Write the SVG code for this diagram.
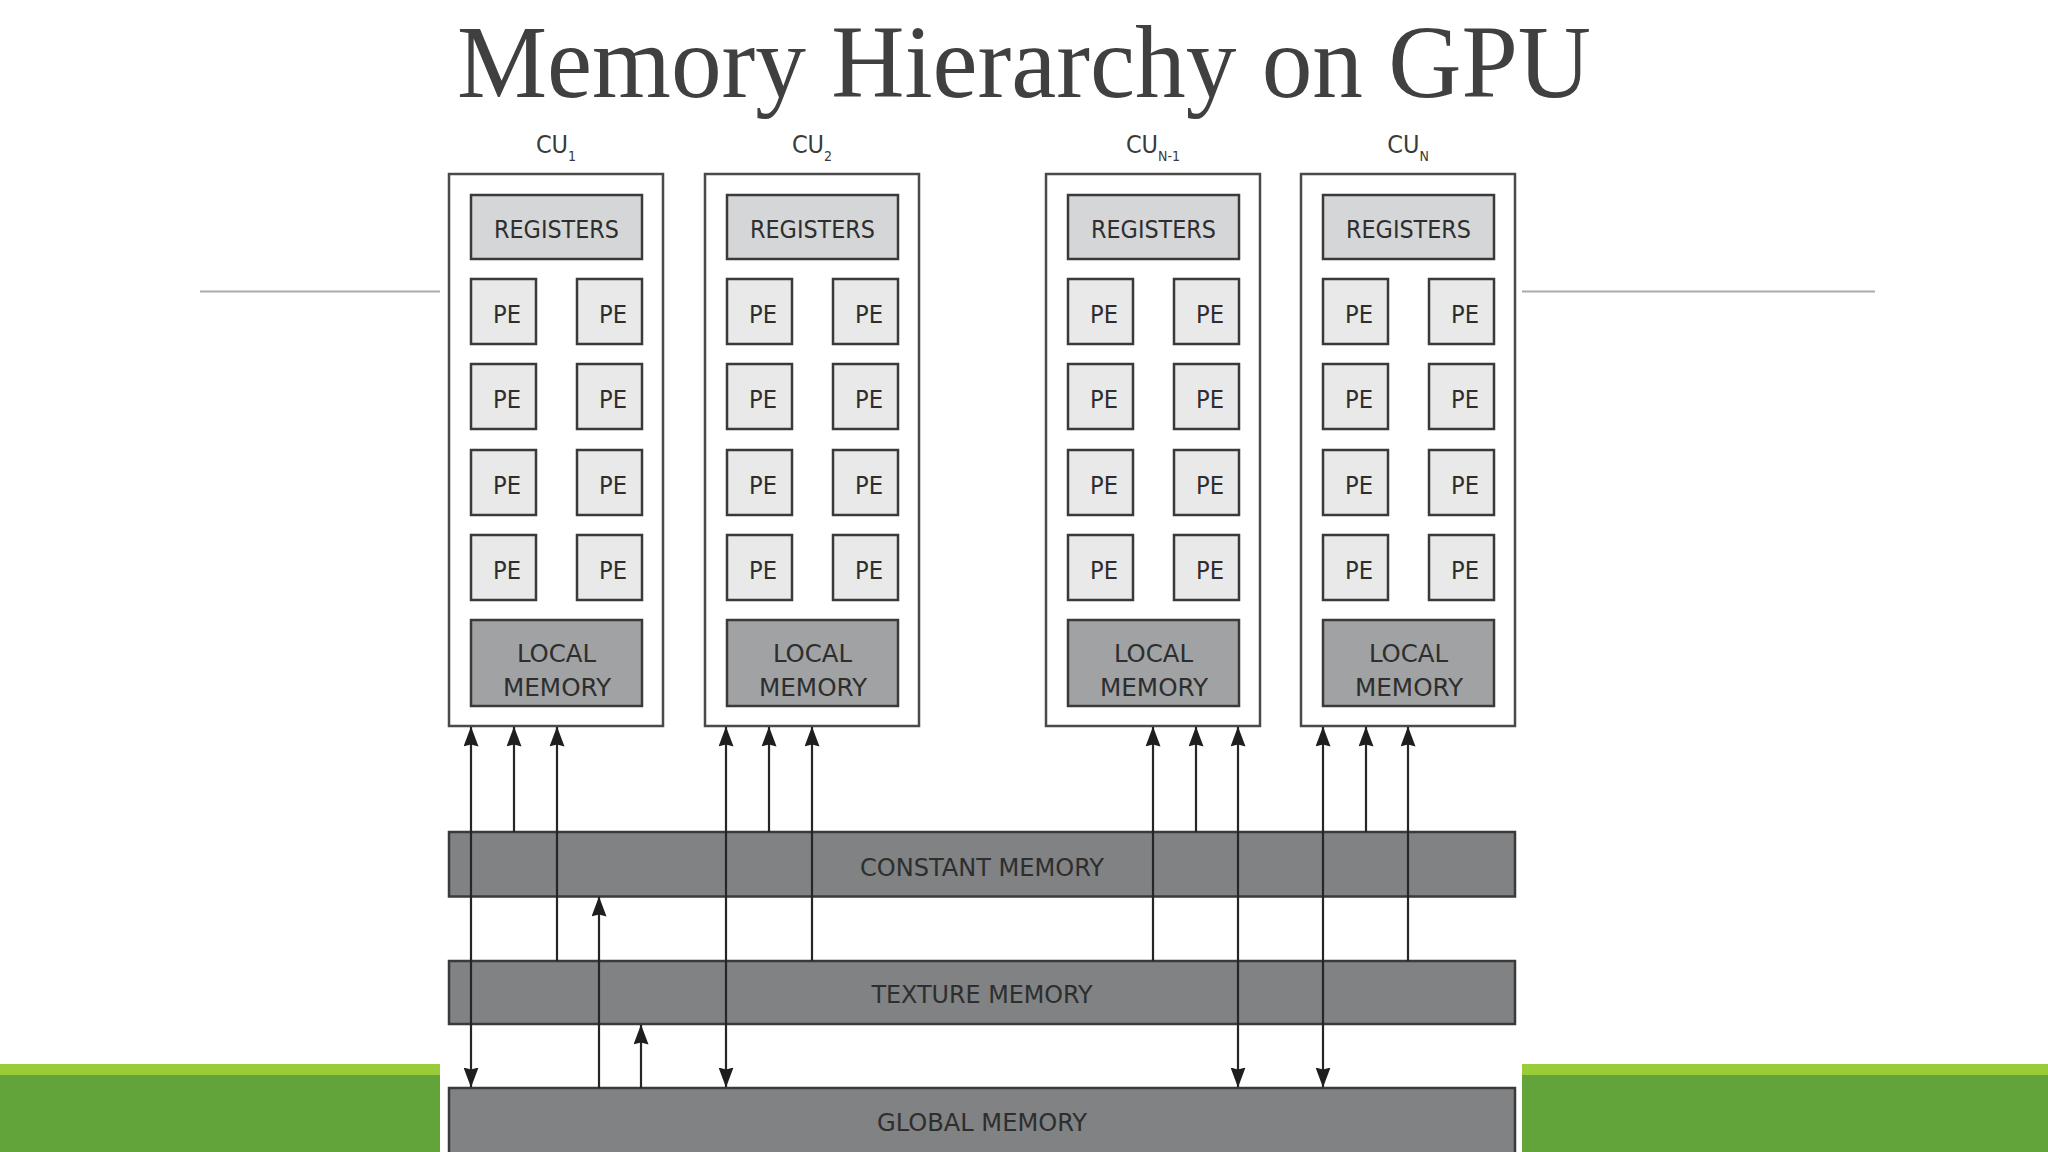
<svg xmlns="http://www.w3.org/2000/svg" width="2048" height="1152" viewBox="0 0 2048 1152">
  <style>
    .title { font-family: "Liberation Serif", "Times New Roman", serif; font-size: 104px; fill: #404040; }
    .lbl { font-family: "DejaVu Sans Condensed", "Liberation Sans", Arial, sans-serif; font-size: 25px; fill: #2e2e2e; text-anchor: middle; }
    .cul { font-family: "DejaVu Sans Condensed", "Liberation Sans", Arial, sans-serif; font-size: 25px; fill: #3a3a3a; text-anchor: middle; }
    .sub { font-size: 14px; }
    .cu { fill: #ffffff; stroke: #4a4a4a; stroke-width: 2.5; }
    .reg { fill: #d5d6d7; stroke: #3a3a3a; stroke-width: 2.5; }
    .pe { fill: #e9e9ea; stroke: #3a3a3a; stroke-width: 2.5; }
    .loc { fill: #a0a2a4; stroke: #3a3a3a; stroke-width: 2.5; }
    .bar { fill: #808284; stroke: #3a3a3a; stroke-width: 2.5; }
    .rule { stroke: #aaaaaa; stroke-width: 2; }
    .conn { stroke: #262626; stroke-width: 2.2; fill: none; }
    .one { marker-end: url(#ah); }
    .two { marker-start: url(#ah); marker-end: url(#ah); }
  </style>
  <defs>
    <marker id="ah" viewBox="0 0 20 15" refX="19.5" refY="7.5" markerWidth="20" markerHeight="15" markerUnits="userSpaceOnUse" orient="auto-start-reverse">
      <path d="M0,0 L20,7.5 L0,15 L2,7.5 Z" fill="#1e1e1e"/>
    </marker>
    <g id="cuBody">
      <rect class="cu" x="449" y="174" width="214" height="552"/>
      <rect class="reg" x="471" y="195" width="171" height="64"/>
      <text class="lbl" x="556.5" y="238" textLength="125" lengthAdjust="spacingAndGlyphs">REGISTERS</text>
      <rect class="pe" x="471" y="279" width="65" height="65"/>
      <rect class="pe" x="577" y="279" width="65" height="65"/>
      <rect class="pe" x="471" y="364" width="65" height="65"/>
      <rect class="pe" x="577" y="364" width="65" height="65"/>
      <rect class="pe" x="471" y="450" width="65" height="65"/>
      <rect class="pe" x="577" y="450" width="65" height="65"/>
      <rect class="pe" x="471" y="535" width="65" height="65"/>
      <rect class="pe" x="577" y="535" width="65" height="65"/>
      <text class="lbl" x="507" y="323" textLength="28" lengthAdjust="spacingAndGlyphs">PE</text>
      <text class="lbl" x="613" y="323" textLength="28" lengthAdjust="spacingAndGlyphs">PE</text>
      <text class="lbl" x="507" y="408" textLength="28" lengthAdjust="spacingAndGlyphs">PE</text>
      <text class="lbl" x="613" y="408" textLength="28" lengthAdjust="spacingAndGlyphs">PE</text>
      <text class="lbl" x="507" y="494" textLength="28" lengthAdjust="spacingAndGlyphs">PE</text>
      <text class="lbl" x="613" y="494" textLength="28" lengthAdjust="spacingAndGlyphs">PE</text>
      <text class="lbl" x="507" y="579" textLength="28" lengthAdjust="spacingAndGlyphs">PE</text>
      <text class="lbl" x="613" y="579" textLength="28" lengthAdjust="spacingAndGlyphs">PE</text>
      <rect class="loc" x="471" y="620" width="171" height="86"/>
      <text class="lbl" x="556.5" y="662" textLength="79" lengthAdjust="spacingAndGlyphs">LOCAL</text>
      <text class="lbl" x="557" y="696" textLength="108" lengthAdjust="spacingAndGlyphs">MEMORY</text>
    </g>
  </defs>

  <rect x="0" y="0" width="2048" height="1152" fill="#ffffff"/>

  <g id="title">
    <text class="title" x="1024" y="97" text-anchor="middle" textLength="1134" lengthAdjust="spacingAndGlyphs">Memory Hierarchy on GPU</text>
  </g>

  <g id="decor">
    <line class="rule" x1="200" y1="291.5" x2="440" y2="291.5"/>
    <line class="rule" x1="1522" y1="291.5" x2="1875" y2="291.5"/>
    <rect x="0" y="1064" width="440" height="88" fill="#62a43a"/>
    <rect x="0" y="1064" width="440" height="11" fill="#9acb38"/>
    <rect x="1522" y="1064" width="526" height="88" fill="#62a43a"/>
    <rect x="1522" y="1064" width="526" height="11" fill="#9acb38"/>
  </g>

  <g id="cu1">
    <use href="#cuBody"/>
    <text class="cul" x="556" y="153">CU<tspan class="sub" dy="8">1</tspan></text>
  </g>
  <g id="cu2">
    <use href="#cuBody" transform="translate(256,0)"/>
    <text class="cul" x="812" y="153">CU<tspan class="sub" dy="8">2</tspan></text>
  </g>
  <g id="cuN-1">
    <use href="#cuBody" transform="translate(597,0)"/>
    <text class="cul" x="1153" y="153">CU<tspan class="sub" dy="8">N-1</tspan></text>
  </g>
  <g id="cuN">
    <use href="#cuBody" transform="translate(852,0)"/>
    <text class="cul" x="1408" y="153">CU<tspan class="sub" dy="8">N</tspan></text>
  </g>

  <g id="constant-memory">
    <rect class="bar" x="449" y="832" width="1066" height="64.5"/>
    <text class="lbl" x="982" y="876" textLength="244" lengthAdjust="spacingAndGlyphs">CONSTANT MEMORY</text>
  </g>
  <g id="texture-memory">
    <rect class="bar" x="449" y="961" width="1066" height="63"/>
    <text class="lbl" x="982" y="1003" textLength="221" lengthAdjust="spacingAndGlyphs">TEXTURE MEMORY</text>
  </g>
  <g id="global-memory">
    <rect class="bar" x="449" y="1088" width="1066" height="80"/>
    <text class="lbl" x="982" y="1131" textLength="210" lengthAdjust="spacingAndGlyphs">GLOBAL MEMORY</text>
  </g>

  <g id="connectors">
    <line class="conn one" x1="514" y1="832" x2="514" y2="727"/>
    <line class="conn one" x1="769" y1="832" x2="769" y2="727"/>
    <line class="conn one" x1="1196" y1="832" x2="1196" y2="727"/>
    <line class="conn one" x1="1366" y1="832" x2="1366" y2="727"/>
    <line class="conn one" x1="557" y1="961" x2="557" y2="727"/>
    <line class="conn one" x1="812" y1="961" x2="812" y2="727"/>
    <line class="conn one" x1="1153" y1="961" x2="1153" y2="727"/>
    <line class="conn one" x1="1408" y1="961" x2="1408" y2="727"/>
    <line class="conn two" x1="471" y1="1087" x2="471" y2="727"/>
    <line class="conn two" x1="726" y1="1087" x2="726" y2="727"/>
    <line class="conn two" x1="1238" y1="1087" x2="1238" y2="727"/>
    <line class="conn two" x1="1323" y1="1087" x2="1323" y2="727"/>
    <line class="conn one" x1="599" y1="1088" x2="599" y2="897"/>
    <line class="conn one" x1="641" y1="1088" x2="641" y2="1025"/>
  </g>
</svg>
